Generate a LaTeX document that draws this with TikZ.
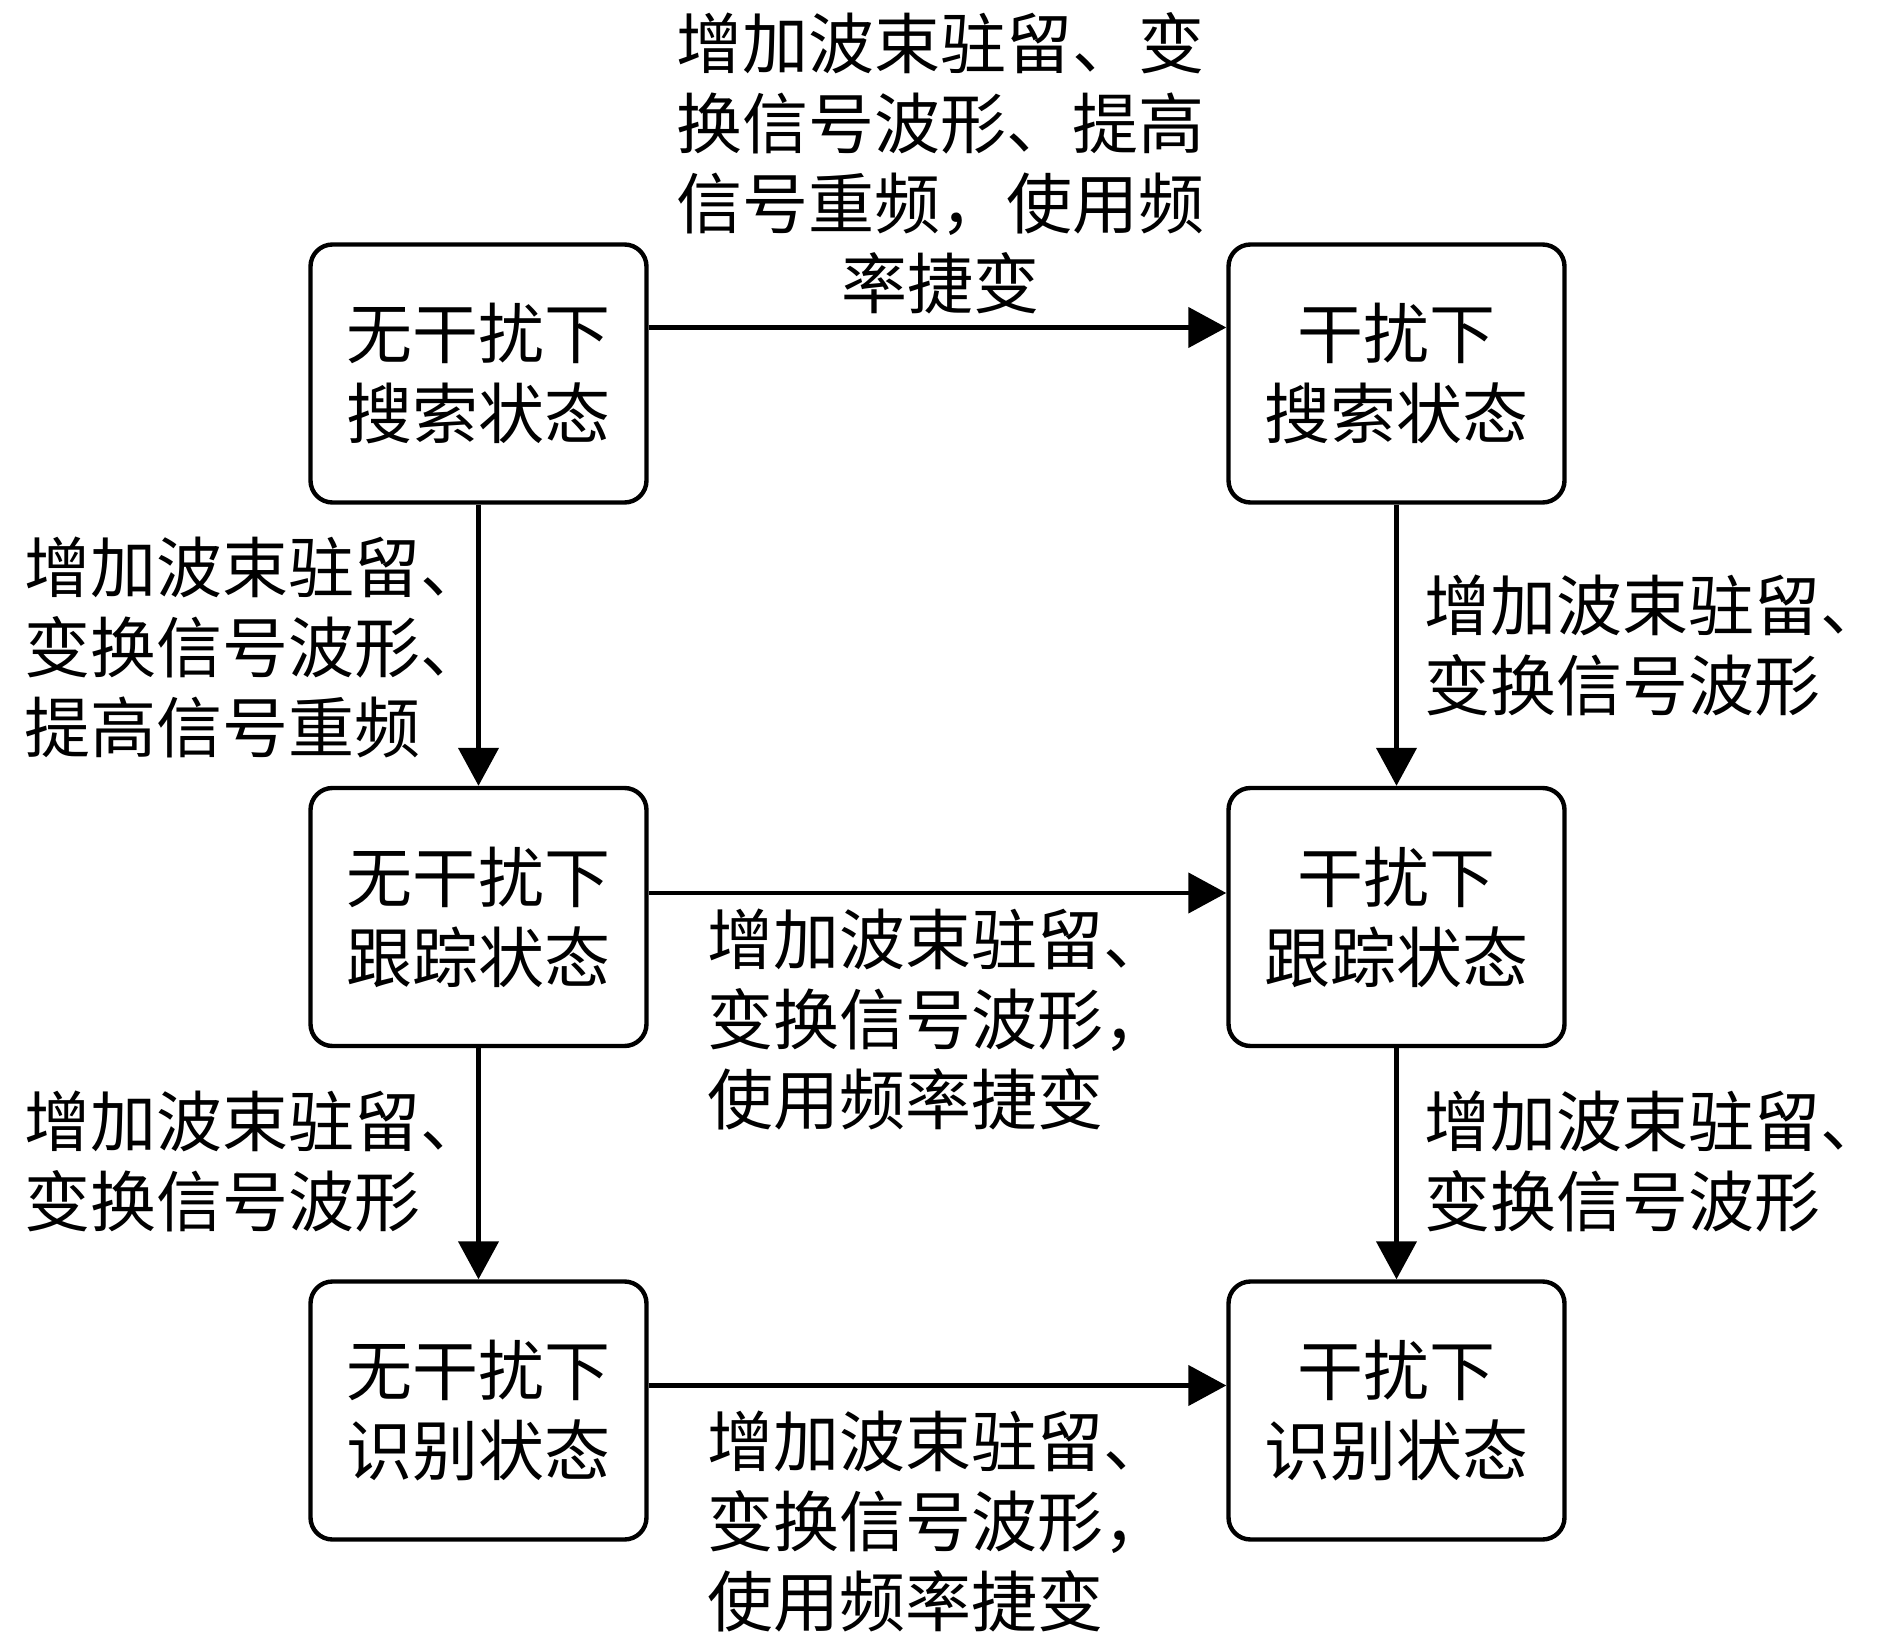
\documentclass[tikz,border=0pt]{standalone}
\usepackage{fontspec}
\setmainfont{Noto Sans CJK SC}
\usetikzlibrary{arrows.meta}
\tikzset{
  statebox/.style={draw, line width=2.2pt, rounded corners=11pt, minimum width=168pt, minimum height=129pt, inner sep=0pt, align=center, font=\fontsize{33pt}{40pt}\selectfont},
  lbl/.style={inner sep=0pt, font=\fontsize{33pt}{40pt}\selectfont},
  arr/.style={line width=2.2pt, -{Triangle[length=19pt,width=20pt]}}
}
\begin{document}
\begin{tikzpicture}[x=0.5pt,y=-0.5pt]
\useasboundingbox (0,0) rectangle (1890,1642);
\node[statebox] (tl) at (478.5,373.5) {无干扰下\\搜索状态};
\node[statebox] (tr) at (1396.5,373.5) {干扰下\\搜索状态};
\node[statebox] (ml) at (478.5,917) {无干扰下\\跟踪状态};
\node[statebox] (mr) at (1396.5,917) {干扰下\\跟踪状态};
\node[statebox] (bl) at (478.5,1410.5) {无干扰下\\识别状态};
\node[statebox] (br) at (1396.5,1410.5) {干扰下\\识别状态};

\draw[arr] ([yshift=23pt]tl.east) -- ([yshift=23pt]tr.west);
\draw[arr] ([yshift=12pt]ml.east) -- ([yshift=12pt]mr.west);
\draw[arr] ([yshift=12.5pt]bl.east) -- ([yshift=12.5pt]br.west);
\draw[arr] (tl) -- (ml);
\draw[arr] (ml) -- (bl);
\draw[arr] (tr) -- (mr);
\draw[arr] (mr) -- (br);

\node[lbl, align=center] (t1) at (940,163) {增加波束驻留、变\\换信号波形、提高\\信号重频，使用频\\率捷变};
\node[lbl, align=left, anchor=west] (l1) at (24,647) {增加波束驻留、\\变换信号波形、\\提高信号重频};
\node[lbl, align=left, anchor=west] (r1) at (1424,646) {增加波束驻留、\\变换信号波形};
\node[lbl, align=left, anchor=west] (l2) at (24,1162) {增加波束驻留、\\变换信号波形};
\node[lbl, align=left, anchor=west] (r2) at (1424,1162) {增加波束驻留、\\变换信号波形};
\node[lbl, align=left, anchor=west] (m1) at (707,1020) {增加波束驻留、\\变换信号波形，\\使用频率捷变};
\node[lbl, align=left, anchor=west] (b1) at (707,1522) {增加波束驻留、\\变换信号波形，\\使用频率捷变};
\end{tikzpicture}
\end{document}
